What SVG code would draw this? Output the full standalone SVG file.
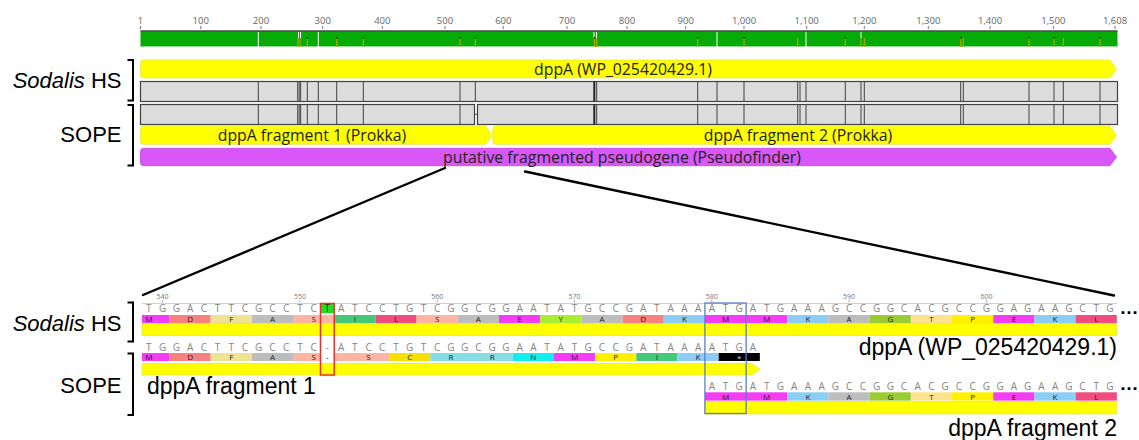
<svg xmlns="http://www.w3.org/2000/svg" width="1139" height="440" viewBox="0 0 1139 440">
<style>
.lbl{font-family:"Liberation Sans",Arial,sans-serif;fill:#000}
.rul{font-family:"Open Sans","Noto Sans",sans-serif;font-size:9.5px;fill:#666;text-anchor:middle}
.ann{font-family:"Open Sans","Noto Sans",sans-serif;font-size:15.8px;fill:#222;text-anchor:middle}
.nt{font-family:"Open Sans","Noto Sans",sans-serif;font-size:10px;fill:#858585;text-anchor:middle}
.aa{font-family:"Open Sans","Noto Sans",sans-serif;font-size:8px;fill:#222;text-anchor:middle}
.pos{font-family:"Open Sans","Noto Sans",sans-serif;font-size:7px;fill:#777;text-anchor:middle}
.dots{font-family:"Liberation Sans",Arial,sans-serif;font-size:19px;font-weight:bold;fill:#000;text-anchor:middle}
.brk{fill:none;stroke:#000;stroke-width:2}
.yel{fill:#ffff00;stroke:#e4e44a;stroke-width:0.8}
.gry{fill:#dcdcdc;stroke:#404040;stroke-width:1.2}
.div{stroke:#404040;stroke-width:1}
.M{fill:#f23df2}.D{fill:#f78080}.F{fill:#ede391}.A{fill:#bdbdbd}.S{fill:#fdb5a3}.I{fill:#45c87a}.L{fill:#f04c80}
.Y{fill:#aaee33}.K{fill:#8ccdf5}.C{fill:#f7df00}.R{fill:#86dde3}.N{fill:#11eeee}.P{fill:#fff000}.G{fill:#99cc33}.T{fill:#fde38e}.E{fill:#f23df2}.X{fill:#000}
</style>

<!-- Ruler -->
<g id="ruler">
<g class="rul">
<text x="140.5" y="23.5">1</text><text x="200.7" y="23.5">100</text><text x="261" y="23.5">200</text><text x="322.7" y="23.5">300</text>
<text x="382.3" y="23.5">400</text><text x="445" y="23.5">500</text><text x="503.3" y="23.5">600</text><text x="567" y="23.5">700</text>
<text x="627" y="23.5">800</text><text x="685.7" y="23.5">900</text><text x="744" y="23.5">1,000</text><text x="806.7" y="23.5">1,100</text>
<text x="864.3" y="23.5">1,200</text><text x="928.3" y="23.5">1,300</text><text x="990" y="23.5">1,400</text><text x="1053.3" y="23.5">1,500</text><text x="1115" y="23.5">1,608</text>
</g>
<path stroke="#777" stroke-width="1" d="M140.5,26V29M200.7,26V29M261,26V29M322.7,26V29M382.3,26V29M445,26V29M503.3,26V29M567,26V29M627,26V29M685.7,26V29M744,26V29M806.7,26V29M864.3,26V29M928.3,26V29M990,26V29M1053.3,26V29M1115,26V29"/>
</g>

<!-- Consensus -->
<g id="consensus">
<rect x="140.5" y="31" width="977" height="16" fill="#07ab07"/>
<line x1="140.5" y1="31" x2="1117.5" y2="31" stroke="#4a4a4a" stroke-width="1.5"/>
<line x1="140.5" y1="46.5" x2="1117.5" y2="46.5" stroke="#8fdc8f" stroke-width="1"/>
<path stroke="#a8a800" stroke-width="1.2" d="M298,38V47M300,38V47M307.3,38V47M336.7,38V47M363.3,38V47M460,38V47M475.3,38V47M594.5,38V47M596.7,38V47M697.7,38V47M744,38V47M797.7,38V47M845.3,38V47M861,38V47M864.3,38V47M960.7,38V47M963.3,38V47M1029,38V47M1054,38V47M1063.3,38V47M1100,38V47"/>
<path stroke="#ffffff" stroke-width="1" d="M258.3,32V47M298.5,32V38M300.5,32V38M318.3,32V47M594,32V38M596.5,32V38M717,32V47M806,32V47M861,32V38"/>
<path stroke="#111" stroke-width="1.2" d="M307.3,37V38.5M336.7,37V38.5M363.3,37V38.5M460,37V38.5M475.3,37V38.5M594.5,37V38.5M697.7,37V38.5M744,37V38.5M845.3,37V38.5M960.7,37V38.5M1029,37V38.5M1054,37V38.5M1100,37V38.5"/>
</g>

<!-- Left labels top -->
<g id="label-sodalis-top">
<text class="lbl" x="121.5" y="88" font-size="22" text-anchor="end"><tspan font-style="italic">Sodalis</tspan> HS</text>
<path class="brk" d="M127.5,60H133V100.5H127.5"/>
</g>
<g id="label-sope-top">
<text class="lbl" x="121.5" y="142" font-size="22" text-anchor="end">SOPE</text>
<path class="brk" d="M127.5,105H133V165.5H127.5"/>
</g>

<!-- Top annotation bars -->
<g id="dppA-sodalis">
<path class="yel" d="M143.5,60H1110L1116.5,69L1110,78H143.5Q140.5,78 140.5,75V63Q140.5,60 143.5,60Z"/>
<text class="ann" x="623" y="74.5">dppA (WP_025420429.1)</text>
</g>
<g id="seq-sodalis">
<rect class="gry" x="140.5" y="81.5" width="977" height="20"/>
<path class="div" d="M258.3,81.5V101.5M297.7,81.5V101.5M299.2,81.5V101.5M300.7,81.5V101.5M307.3,81.5V101.5M318.3,81.5V101.5M336.7,81.5V101.5M363.3,81.5V101.5M460,81.5V101.5M475.3,81.5V101.5M596.7,81.5V101.5M697.7,81.5V101.5M717,81.5V101.5M744,81.5V101.5M797.7,81.5V101.5M800,81.5V101.5M806,81.5V101.5M845.3,81.5V101.5M861,81.5V101.5M864.3,81.5V101.5M960.7,81.5V101.5M963.3,81.5V101.5M1029,81.5V101.5M1054,81.5V101.5M1063.3,81.5V101.5M1100,81.5V101.5"/>
<line x1="594.3" y1="81.5" x2="594.3" y2="101.5" stroke="#222" stroke-width="2"/>
</g>
<g id="seq-sope">
<rect class="gry" x="140.5" y="104.5" width="334" height="20"/>
<rect class="gry" x="477.5" y="104.5" width="640" height="20"/>
<line x1="474.5" y1="114.3" x2="477.5" y2="114.3" stroke="#404040" stroke-width="1"/>
<path class="div" d="M258.3,104.5V124.5M297.7,104.5V124.5M299.2,104.5V124.5M300.7,104.5V124.5M307.3,104.5V124.5M318.3,104.5V124.5M336.7,104.5V124.5M363.3,104.5V124.5M460,104.5V124.5M596.7,104.5V124.5M697.7,104.5V124.5M717,104.5V124.5M744,104.5V124.5M797.7,104.5V124.5M800,104.5V124.5M806,104.5V124.5M845.3,104.5V124.5M861,104.5V124.5M864.3,104.5V124.5M960.7,104.5V124.5M963.3,104.5V124.5M1029,104.5V124.5M1054,104.5V124.5M1063.3,104.5V124.5M1100,104.5V124.5"/>
<line x1="594.3" y1="104.5" x2="594.3" y2="124.5" stroke="#222" stroke-width="2"/>
</g>
<g id="frag1-prokka">
<path class="yel" d="M143.5,126H486L492,135.2L486,144.3H143.5Q140.5,144.3 140.5,141.3V129Q140.5,126 143.5,126Z"/>
<text class="ann" x="312" y="140.8">dppA fragment 1 (Prokka)</text>
</g>
<g id="frag2-prokka">
<path class="yel" d="M495.5,126H1110L1116.5,135.2L1110,144.3H495.5Q492.8,144.3 492.8,141.3V129Q492.8,126 495.5,126Z"/>
<text class="ann" x="798" y="140.8">dppA fragment 2 (Prokka)</text>
</g>
<g id="pseudogene">
<path fill="#d957f7" stroke="#c445e6" stroke-width="0.8" d="M143.5,148.3H1110L1116.5,157L1110,165.7H143.5Q140.5,165.7 140.5,162.7V151.3Q140.5,148.3 143.5,148.3Z"/>
<text class="ann" x="622" y="162.6">putative fragmented pseudogene (Pseudofinder)</text>
</g>

<!-- Connectors (zoom lines) -->
<g id="connectors" stroke="#000" stroke-width="2.4" stroke-linecap="round">
<line x1="445" y1="168" x2="143" y2="295"/>
<line x1="525" y1="171.5" x2="1114" y2="295.5"/>
</g>

<!-- Bottom left labels -->
<g id="label-sodalis-bottom">
<text class="lbl" x="121.5" y="330.5" font-size="22" text-anchor="end"><tspan font-style="italic">Sodalis</tspan> HS</text>
<path class="brk" d="M127.5,302.5H133V341.5H127.5"/>
</g>
<g id="label-sope-bottom">
<text class="lbl" x="121.5" y="393" font-size="22" text-anchor="end">SOPE</text>
<path class="brk" d="M127.5,353.5H133V415H127.5"/>
</g>

<!-- Sodalis HS alignment row -->
<g id="row-sodalis">
<line x1="142" y1="303.5" x2="1117" y2="303.5" stroke="#cfcfe3" stroke-width="1"/>
<g class="pos">
<text x="162.6" y="299">540</text><text x="299.9" y="299">550</text><text x="437.2" y="299">560</text><text x="574.5" y="299">570</text><text x="711.8" y="299">580</text><text x="849.1" y="299">590</text><text x="986.4" y="299">600</text>
</g>
<path stroke="#999" stroke-width="0.8" d="M162.6,300V302.5M299.9,300V302.5M437.2,300V302.5M574.5,300V302.5M711.8,300V302.5M849.1,300V302.5M986.4,300V302.5"/>
<rect x="320.49" y="303.8" width="13.73" height="9.4" fill="#1ee01e"/>
<text class="nt" x="148.87 162.6 176.33 190.06 203.79 217.52 231.25 244.98 258.71 272.44 286.17 299.9 313.63" y="312.3">TGGACTTCGCCTC</text>
<text class="nt" x="327.36" y="312.3" style="fill:#222">T</text>
<text class="nt" x="341.09 354.82 368.55 382.28 396.01 409.74 423.47 437.2 450.93 464.66 478.39 492.12 505.85 519.58 533.31 547.04 560.77 574.5 588.23 601.96 615.69 629.42 643.15 656.88 670.61 684.34 698.07 711.8 725.53 739.26 752.99 766.72 780.45 794.18 807.91 821.64 835.37 849.1 862.83 876.56 890.29 904.02 917.75 931.48 945.21 958.94 972.67 986.4 1000.13 1013.86 1027.59 1041.32 1055.05 1068.78 1082.51 1096.24 1109.97" y="312.3">ATCCTGTCGGCGGAATATGCCGATAAAATGATGAAAGCCGGCACGCCGGAGAAGCTG</text>
<g transform="translate(0,315)">
<rect class="M" x="142" width="27.46" height="8"/>
<rect class="D" x="169.46" width="41.19" height="8"/>
<rect class="F" x="210.65" width="41.19" height="8"/>
<rect class="A" x="251.84" width="41.19" height="8"/>
<rect class="S" x="293.03" width="41.19" height="8"/>
<rect class="I" x="334.22" width="41.19" height="8"/>
<rect class="L" x="375.41" width="41.19" height="8"/>
<rect class="S" x="416.6" width="41.19" height="8"/>
<rect class="A" x="457.79" width="41.19" height="8"/>
<rect class="E" x="498.98" width="41.19" height="8"/>
<rect class="Y" x="540.17" width="41.19" height="8"/>
<rect class="A" x="581.36" width="41.19" height="8"/>
<rect class="D" x="622.55" width="41.19" height="8"/>
<rect class="K" x="663.74" width="41.19" height="8"/>
<rect class="M" x="704.93" width="41.19" height="8"/>
<rect class="M" x="746.12" width="41.19" height="8"/>
<rect class="K" x="787.31" width="41.19" height="8"/>
<rect class="A" x="828.5" width="41.19" height="8"/>
<rect class="G" x="869.69" width="41.19" height="8"/>
<rect class="T" x="910.88" width="41.19" height="8"/>
<rect class="P" x="952.07" width="41.19" height="8"/>
<rect class="E" x="993.26" width="41.19" height="8"/>
<rect class="K" x="1034.45" width="41.19" height="8"/>
<rect class="L" x="1075.64" width="41.19" height="8"/>
</g>
<text class="aa" x="148.87 190.06 231.25 272.44 313.63 354.82 396.01 437.2 478.39 519.58 560.77 601.96 643.15 684.34 725.53 766.72 807.91 849.1 890.29 931.48 972.67 1013.86 1055.05 1096.24" y="322.2">MDFASILSAEYADKMMKAGTPEKL</text>
<rect class="yel" x="142" y="323.5" width="974.83" height="12"/>
<text class="dots" x="1129" y="314">…</text>
</g>
<g id="label-dppA-bottom">
<text class="lbl" x="1117" y="355" font-size="23" text-anchor="end">dppA (WP_025420429.1)</text>
</g>

<!-- SOPE fragment 1 row -->
<g id="row-sope-frag1">
<text class="nt" x="148.87 162.6 176.33 190.06 203.79 217.52 231.25 244.98 258.71 272.44 286.17 299.9 313.63 327.36 341.09 354.82 368.55 382.28 396.01 409.74 423.47 437.2 450.93 464.66 478.39 492.12 505.85 519.58 533.31 547.04 560.77 574.5 588.23 601.96 615.69 629.42 643.15 656.88 670.61 684.34 698.07 711.8 725.53 739.26 752.99" y="351.3">TGGACTTCGCCTC-ATCCTGTCGGCGGAATATGCCGATAAAATGA</text>
<g transform="translate(0,353)">
<rect class="M" x="142" width="27.46" height="8"/>
<rect class="D" x="169.46" width="41.19" height="8"/>
<rect class="F" x="210.65" width="41.19" height="8"/>
<rect class="A" x="251.84" width="41.19" height="8"/>
<rect class="S" x="293.03" width="27.46" height="8"/>
<rect class="S" x="334.22" width="54.92" height="8"/>
<rect class="C" x="389.14" width="41.19" height="8"/>
<rect class="R" x="430.33" width="82.38" height="8"/>
<rect class="N" x="512.71" width="41.19" height="8"/>
<rect class="M" x="553.9" width="41.19" height="8"/>
<rect class="P" x="595.09" width="41.19" height="8"/>
<rect class="I" x="636.28" width="41.19" height="8"/>
<rect class="K" x="677.47" width="41.19" height="8"/>
<rect class="X" x="718.66" width="41.19" height="8"/>
</g>
<text class="aa" x="148.87 190.06 231.25 272.44 313.63 327.36 368.55 409.74 450.93 492.12 533.31 574.5 615.69 656.88 698.07" y="360.2">MDFAS-SCRRNMPIK</text>
<text class="aa" x="739.26" y="361" style="fill:#ccc">*</text>
<path class="yel" d="M142,363.5H752L760,369.25L752,375H142Z"/>
</g>
<g id="label-frag1-bottom">
<text class="lbl" x="147" y="394.3" font-size="23">dppA fragment 1</text>
</g>

<!-- SOPE fragment 2 row -->
<g id="row-sope-frag2">
<text class="nt" x="711.8 725.53 739.26 752.99 766.72 780.45 794.18 807.91 821.64 835.37 849.1 862.83 876.56 890.29 904.02 917.75 931.48 945.21 958.94 972.67 986.4 1000.13 1013.86 1027.59 1041.32 1055.05 1068.78 1082.51 1096.24 1109.97" y="389.5">ATGATGAAAGCCGGCACGCCGGAGAAGCTG</text>
<g transform="translate(0,392.3)">
<rect class="M" x="704.93" width="82.38" height="8.3"/>
<rect class="K" x="787.31" width="41.19" height="8.3"/>
<rect class="A" x="828.5" width="41.19" height="8.3"/>
<rect class="G" x="869.69" width="41.19" height="8.3"/>
<rect class="T" x="910.88" width="41.19" height="8.3"/>
<rect class="P" x="952.07" width="41.19" height="8.3"/>
<rect class="E" x="993.26" width="41.19" height="8.3"/>
<rect class="K" x="1034.45" width="41.19" height="8.3"/>
<rect class="L" x="1075.64" width="41.19" height="8.3"/>
</g>
<text class="aa" x="725.53 766.72 807.91 849.1 890.29 931.48 972.67 1013.86 1055.05 1096.24" y="399.7">MMKAGTPEKL</text>
<rect class="yel" x="704.93" y="401.5" width="411.9" height="12.5"/>
<text class="dots" x="1129" y="390">…</text>
</g>
<g id="label-frag2-bottom">
<text class="lbl" x="1117" y="435.7" font-size="23" text-anchor="end">dppA fragment 2</text>
</g>

<!-- Highlight boxes -->
<g id="highlight-insertion">
<rect x="320.49" y="303.5" width="13.73" height="71.5" fill="none" stroke="#e8302a" stroke-width="1.5"/>
</g>
<g id="highlight-start">
<rect x="704.93" y="303" width="41.19" height="110.5" fill="none" stroke="#5a7ec8" stroke-width="1.3"/>
</g>
</svg>
